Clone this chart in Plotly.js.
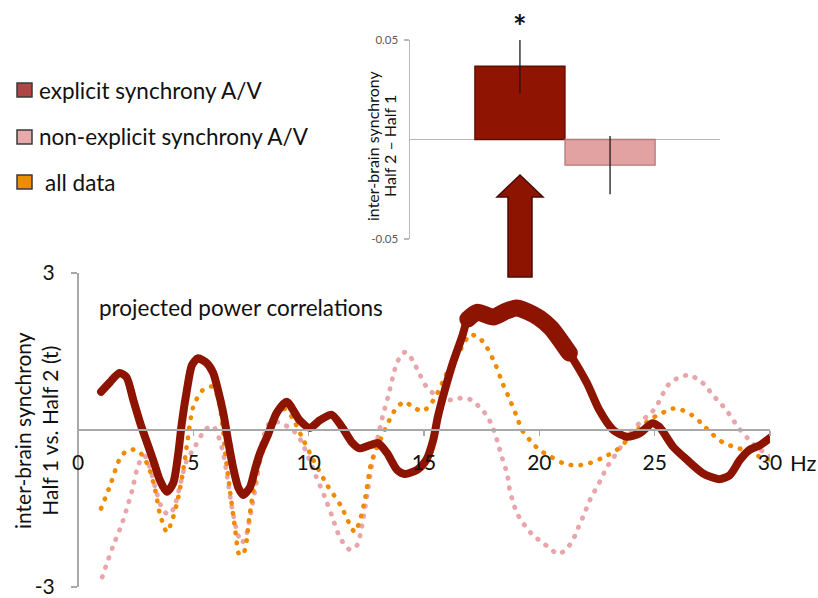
<!DOCTYPE html>
<html>
<head>
<meta charset="utf-8">
<script src="https://cdn.plot.ly/plotly-3.0.1.min.js"></script>
<style>
  html, body { margin: 0; padding: 0; background: #ffffff; }
  #chart { width: 818px; height: 598px; }
  .scatterlayer .js-line { stroke-linecap: round !important; stroke-linejoin: round !important; }
</style>
</head>
<body>
<div id="chart"></div>
<script>
// ---------------- data ----------------
const seriesNames = ["explicit synchrony A/V", "non-explicit synchrony A/V", "all data"];

// explicit synchrony A/V (solid dark red)
const explicitHz = [1.0,1.4,1.8,2.1,2.4,2.7,3.0,3.3,3.55,3.85,4.13,4.35,4.5,4.72,4.94,5.2,5.58,5.86,6.07,6.3,6.5,6.72,6.94,7.16,7.46,7.67,7.89,8.2,8.62,9.05,9.6,10.05,10.5,11.0,11.44,11.9,12.2,12.66,13.0,13.4,13.83,14.17,14.7,15.1,15.4,15.6,15.9,16.25,16.65,16.9,17.3,18.0,18.5,19.0,19.5,20.0,20.5,21.0,21.3,22.06,22.6,23.2,23.8,24.36,24.9,25.2,25.8,26.4,27.1,27.8,28.26,28.7,29.1,29.56,30];
const explicitT  = [0.73,0.92,1.09,1.01,0.57,0.13,-0.25,-0.63,-0.96,-1.18,-1.01,-0.44,0.13,0.76,1.24,1.37,1.28,1.09,0.76,0.32,-0.19,-0.71,-1.09,-1.24,-1.09,-0.76,-0.44,-0.13,0.33,0.54,0.19,0.04,0.19,0.29,0.06,-0.25,-0.35,-0.29,-0.25,-0.44,-0.76,-0.84,-0.76,-0.57,-0.19,0.25,0.76,1.28,1.78,2.12,2.25,2.16,2.26,2.33,2.26,2.14,1.95,1.66,1.47,0.9,0.38,0.0,-0.13,-0.06,0.13,0.06,-0.32,-0.57,-0.83,-0.94,-0.86,-0.57,-0.38,-0.29,-0.15];
// significant frequency range (drawn thicker)
const sigRange = [16.85, 21.35];

// non-explicit synchrony A/V (pink dotted)
const nonExplicitHz = [1.05,1.5,1.9,2.15,2.35,2.55,2.75,2.9,3.1,3.35,3.6,3.9,4.15,4.4,4.7,5.07,5.5,5.85,6.07,6.3,6.45,6.67,6.9,7.1,7.3,7.46,7.75,8.0,8.3,8.7,9.1,9.4,9.7,10.2,10.7,11.0,11.27,11.5,11.8,12.1,12.3,12.55,12.8,13.0,13.2,13.45,13.75,13.96,14.2,14.5,14.75,15.1,15.4,15.8,16.25,16.7,17.07,17.4,17.7,17.9,18.07,18.2,18.4,18.6,18.73,18.86,19.0,19.2,19.45,19.7,20.1,20.46,20.8,21.15,21.4,21.6,21.76,21.93,22.1,22.3,22.5,22.7,22.9,23.15,23.6,24.06,24.5,24.9,25.15,25.37,25.66,26.1,26.5,26.9,27.25,27.5,27.8,28.1,28.35,28.6,28.83,29.1,29.4,30];
const nonExplicitT  = [-2.81,-2.24,-1.8,-1.45,-1.15,-0.76,-0.54,-0.5,-0.7,-1.1,-1.45,-1.62,-1.5,-1.1,-0.6,-0.32,0.0,0.08,-0.1,-0.45,-0.83,-1.47,-1.95,-2.16,-2.0,-1.66,-0.96,-0.19,0.13,0.15,0.06,-0.04,-0.23,-0.76,-1.28,-1.63,-1.97,-2.16,-2.29,-2.2,-1.85,-1.2,-0.51,-0.13,0.25,0.65,1.18,1.4,1.49,1.34,1.12,0.83,0.7,0.61,0.57,0.62,0.57,0.44,0.29,0.13,-0.06,-0.25,-0.55,-0.83,-1.18,-1.37,-1.56,-1.72,-1.87,-2.0,-2.14,-2.26,-2.37,-2.29,-2.14,-1.97,-1.78,-1.63,-1.43,-1.24,-1.09,-0.92,-0.73,-0.57,-0.28,0.0,0.2,0.35,0.51,0.7,0.9,1.01,1.05,0.96,0.83,0.67,0.54,0.38,0.23,0.06,-0.06,-0.19,-0.32,-0.5];

// all data (orange dotted)
const allDataHz = [1.0,1.4,1.8,2.1,2.55,2.85,3.1,3.35,3.55,3.85,4.1,4.35,4.55,4.75,5.0,5.4,5.8,6.05,6.25,6.4,6.6,6.8,7.0,7.2,7.45,7.7,8.0,8.3,8.6,8.97,9.3,9.7,10.2,10.8,11.4,11.8,12.0,12.2,12.45,12.7,13.0,13.4,13.8,14.17,14.5,14.95,15.3,15.6,15.95,16.3,16.6,17.0,17.4,17.75,18.1,18.4,18.7,19.0,19.25,19.6,20.0,20.5,21.0,21.6,22.2,22.8,23.36,23.8,24.3,24.8,25.3,25.8,26.2,26.6,27.0,27.5,28.0,28.5,29.0,29.5,30];
const allDataT  = [-1.5,-1.05,-0.56,-0.4,-0.38,-0.52,-0.75,-1.15,-1.6,-1.95,-1.7,-1.28,-0.8,-0.2,0.45,0.76,0.83,0.65,0.15,-0.5,-1.2,-1.85,-2.39,-2.33,-1.6,-0.9,-0.42,0.0,0.29,0.4,0.23,-0.13,-0.57,-1.05,-1.45,-1.82,-1.95,-1.76,-1.3,-0.65,-0.3,0.1,0.42,0.54,0.44,0.36,0.5,0.72,1.05,1.35,1.55,1.82,1.76,1.56,1.25,0.9,0.6,0.28,0.0,-0.2,-0.38,-0.51,-0.63,-0.68,-0.63,-0.52,-0.38,-0.2,0.02,0.2,0.32,0.41,0.38,0.29,0.14,-0.08,-0.25,-0.33,-0.4,-0.5,-0.57];

// inset bar chart: Half 2 - Half 1
const barGroups = ["explicit synchrony A/V", "non-explicit synchrony A/V"];
const barPos    = [1, 2];
const barValues = [0.0368, -0.0129];
const barErrors = [0.0135, 0.0146];

const xTickVals = [0, 5, 10, 15, 20, 25, 30];
const xTickText = ["0", "5", "10", "15", "20", "25", "30"];
const yTickVals = [-3, 3];
const yTickText = ["-3", "3"];
const y2TickVals = [-0.05, 0.05];
const y2TickText = ["-0.05", "0.05"];

// ---------------- styling ----------------
const W = 818, H = 598;
const px = x => x / W;
const py = y => 1 - y / H;
const FONT = "Lato, 'Open Sans', sans-serif";
const cDark = "#8c1400", cPink = "#e8a6ab", cOrange = "#f18a00";

const sigHz = [], sigT = [];
explicitHz.forEach((h, i) => { if (h >= sigRange[0] && h <= sigRange[1]) { sigHz.push(h); sigT.push(explicitT[i]); } });

const traces = [
  { x: nonExplicitHz, y: nonExplicitT, name: seriesNames[1], mode: "lines", type: "scatter",
    line: { color: cPink, width: 4.8, dash: "0.5px,9.5px", shape: "spline", smoothing: 0.7 }, hoverinfo: "skip" },
  { x: allDataHz, y: allDataT, name: seriesNames[2], mode: "lines", type: "scatter",
    line: { color: cOrange, width: 4.6, dash: "0.5px,9.5px", shape: "spline", smoothing: 0.7 }, hoverinfo: "skip" },
  { x: explicitHz, y: explicitT, name: seriesNames[0], mode: "lines", type: "scatter",
    line: { color: cDark, width: 8, shape: "spline", smoothing: 0.7 }, hoverinfo: "skip" },
  { x: sigHz, y: sigT, name: seriesNames[0] + " (sig.)", mode: "lines", type: "scatter",
    line: { color: cDark, width: 17, shape: "spline", smoothing: 0.7 }, hoverinfo: "skip" },
  { x: barPos, y: barValues, type: "bar", xaxis: "x2", yaxis: "y2", width: [1, 1],
    text: barGroups, textposition: "none", hoverinfo: "skip",
    marker: { color: ["#8f1402", "#e3a2a2"], line: { color: ["#5e0d00", "#b57a7a"], width: 1.3 } },
    error_y: { type: "data", array: barErrors, visible: true, color: "#1a1a1a", thickness: 1.3, width: 0 } }
];

const legendY = [90, 137, 182];
const legendColors = ["#b24446", "#e8a9ab", "#f08c00"];
const legendTextX = [37, 37, 43];

const shapes = [];
const annotations = [];
legendY.forEach((y, i) => {
  shapes.push({ type: "rect", xref: "paper", yref: "paper", x0: px(17), x1: px(32), y0: py(y - 7), y1: py(y + 7),
    fillcolor: legendColors[i], line: { color: "#3a3a3a", width: 1.5 } });
  annotations.push({ xref: "paper", yref: "paper", x: px(legendTextX[i]), y: py(y), xanchor: "left", yanchor: "middle",
    text: seriesNames[i], showarrow: false, font: { family: FONT, size: 22.5, color: "#111" } });
});

// arrow (decoration)
const arrowPts = [[520,175],[497,197],[508,197],[508,277],[532,277],[532,197],[543,197]];
let pathStr = arrowPts.map((p, i) => (i ? "L" : "M") + px(p[0]).toFixed(5) + "," + py(p[1]).toFixed(5)).join(" ") + " Z";
shapes.push({ type: "path", xref: "paper", yref: "paper", path: pathStr, fillcolor: "#8c1400", line: { color: "#4a0b00", width: 1.5 } });

annotations.push(
  { xref: "paper", yref: "paper", x: px(36), y: py(431), textangle: -90, xanchor: "center", yanchor: "middle",
    text: "inter-brain synchrony<br>Half 1 vs. Half 2 (t)", showarrow: false, font: { family: FONT, size: 21, color: "#111" } },
  { xref: "paper", yref: "paper", x: px(372), y: py(146), textangle: -90, xanchor: "center", yanchor: "middle",
    text: "inter-brain synchrony", showarrow: false, font: { family: FONT, size: 16, color: "#111" } },
  { xref: "paper", yref: "paper", x: px(389), y: py(146), textangle: -90, xanchor: "center", yanchor: "middle",
    text: "Half 2 \u2013 Half 1", showarrow: false, font: { family: FONT, size: 16, color: "#111" } },
  { xref: "paper", yref: "paper", x: px(97), y: py(307), xanchor: "left", yanchor: "middle",
    text: "projected power correlations", showarrow: false, font: { family: FONT, size: 22.5, color: "#111" } },
  { xref: "paper", yref: "paper", x: px(788), y: py(462), xanchor: "left", yanchor: "middle",
    text: "Hz", showarrow: false, font: { family: FONT, size: 22, color: "#111" } },
  { xref: "paper", yref: "paper", x: px(520), y: py(27), xanchor: "center", yanchor: "middle",
    text: "<b>*</b>", showarrow: false, font: { family: FONT, size: 32, color: "#111" } }
);

const axisGrey = "#a9a9a9";
const layout = {
  width: W, height: H,
  margin: { l: 0, r: 0, t: 0, b: 0, pad: 0 },
  paper_bgcolor: "#ffffff", plot_bgcolor: "rgba(0,0,0,0)",
  showlegend: false, hovermode: false,
  font: { family: FONT, color: "#111" },
  xaxis: {
    domain: [px(78), px(770)], range: [0, 30], anchor: "free", position: py(430),
    showline: true, linecolor: axisGrey, linewidth: 2, showgrid: false, zeroline: false,
    ticks: "outside", ticklen: 5, tickwidth: 1.5, tickcolor: axisGrey,
    tickvals: xTickVals, ticktext: xTickText, ticklabelstandoff: 9, ticklabeloverflow: "allow",
    tickfont: { family: FONT, size: 21, color: "#111" }, fixedrange: true
  },
  yaxis: {
    domain: [py(587), py(273)], range: [-3, 3], anchor: "free", position: px(78),
    showline: true, linecolor: axisGrey, linewidth: 2, showgrid: false, zeroline: false,
    ticks: "outside", ticklen: 6, tickwidth: 1.5, tickcolor: axisGrey,
    tickvals: yTickVals, ticktext: yTickText, ticklabelstandoff: 12, ticklabeloverflow: "allow",
    tickfont: { family: FONT, size: 21, color: "#111" }, fixedrange: true
  },
  xaxis2: {
    domain: [px(410), px(720)], range: [-0.22, 3.22], anchor: "y2",
    visible: false, showgrid: false, zeroline: false, fixedrange: true
  },
  yaxis2: {
    domain: [py(239), py(40)], range: [-0.05, 0.05], anchor: "x2",
    showline: true, linecolor: "#b8b8b8", linewidth: 1.5, showgrid: false,
    zeroline: true, zerolinecolor: "#b8b8b8", zerolinewidth: 1.5,
    ticks: "outside", ticklen: 5, tickwidth: 1.2, tickcolor: "#b8b8b8",
    tickvals: y2TickVals, ticktext: y2TickText, ticklabelstandoff: 3, ticklabeloverflow: "allow",
    tickfont: { family: FONT, size: 11.5, color: "#595959" }, fixedrange: true
  },
  bargap: 0,
  shapes: shapes,
  annotations: annotations
};

Plotly.newPlot("chart", traces, layout, { displayModeBar: false, staticPlot: true });
</script>
</body>
</html>
